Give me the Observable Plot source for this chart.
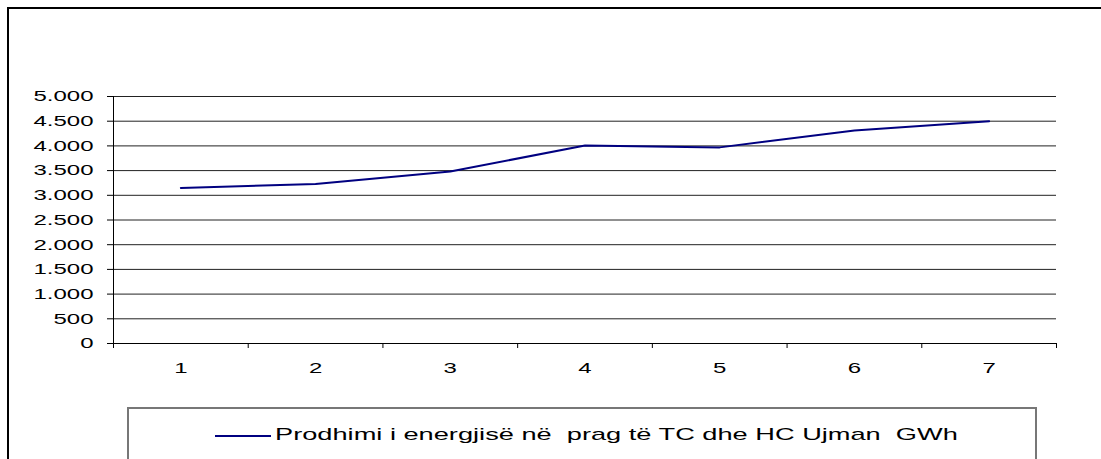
<!DOCTYPE html>
<html>
<head>
<meta charset="utf-8">
<script src="https://cdn.jsdelivr.net/npm/d3@7"></script>
<script src="https://cdn.jsdelivr.net/npm/@observablehq/plot@0.6"></script>
<style>
  html, body { margin: 0; padding: 0; background: #fff; overflow: hidden; }
  body { width: 1101px; height: 459px; position: relative; font-family: "Liberation Sans", Arial, sans-serif; }
  #frame { position: absolute; left: 7px; top: 7px; width: 1094px; height: 452px; border-left: 2px solid #000; border-top: 2px solid #000; box-sizing: border-box; }
  #chart { position: absolute; left: 0; top: 0; }
  #legend { position: absolute; left: 127px; top: 407px; width: 910px; height: 52px; border: 2px solid #777; border-bottom: none; box-sizing: border-box; background: #fff; }
  #legend .sw { position: absolute; left: 86px; top: 26px; width: 56px; height: 0; border-top: 2px solid #000080; }
  #legend .lab { position: absolute; left: 146px; top: 16px; font-size: 17px; line-height: 20px; white-space: pre; color: #000; transform: scaleX(1.6); transform-origin: 0 50%; }
</style>
</head>
<body>
<div id="frame"></div>
<div id="chart"></div>
<div id="legend"><div class="sw"></div><div class="lab" id="legtext"></div></div>
<script>
const categories = [1, 2, 3, 4, 5, 6, 7];
const values = [3150, 3230, 3480, 4010, 3970, 4310, 4500];
const yTicks = [0, 500, 1000, 1500, 2000, 2500, 3000, 3500, 4000, 4500, 5000];
const seriesName = "Prodhimi i energjisë në  prag të TC dhe HC Ujman  GWh";

const boundaries = [0.5, ...categories.map(c => c + 0.5)];
const fmt = d => d3.format(",")(d).replace(/,/g, ".");

const chart = Plot.plot({
  width: 1101,
  height: 459,
  marginLeft: 113,
  marginRight: 45,
  marginTop: 96,
  marginBottom: 116,
  style: { fontFamily: "Liberation Sans, Arial, sans-serif", fontSize: "15px", color: "#000", background: "transparent" },
  x: { type: "linear", domain: [0.5, 7.5] },
  y: { domain: [0, 5000] },
  marks: [
    Plot.gridY(yTicks, { stroke: "#222", strokeOpacity: 1 }),
    Plot.axisY(yTicks, { tickSize: 6, tickPadding: 14, tickFormat: fmt, label: null, stroke: "#000", fill: "#000", fontSize: 15 }),
    Plot.axisX(categories, { tickSize: 0, tickPadding: 19, tickFormat: d => String(d), label: null, fill: "#000", fontSize: 15 }),
    Plot.axisX(boundaries, { tickSize: 5, tickFormat: () => "", label: null, stroke: "#000" }),
    Plot.ruleX([0.5], { stroke: "#000" }),
    Plot.ruleY([0], { stroke: "#000" }),
    Plot.lineY(values, { x: categories, y: values, stroke: "#000080", strokeWidth: 2 })
  ]
});
document.getElementById("chart").appendChild(chart);

// horizontally stretched glyphs as in the reference
chart.querySelectorAll('g[aria-label$="tick label"] text').forEach(t => {
  const tr = t.getAttribute("transform") || "";
  t.setAttribute("transform", tr + " scale(1.6,1)");
});

document.getElementById("legtext").textContent = seriesName;
</script>
</body>
</html>
